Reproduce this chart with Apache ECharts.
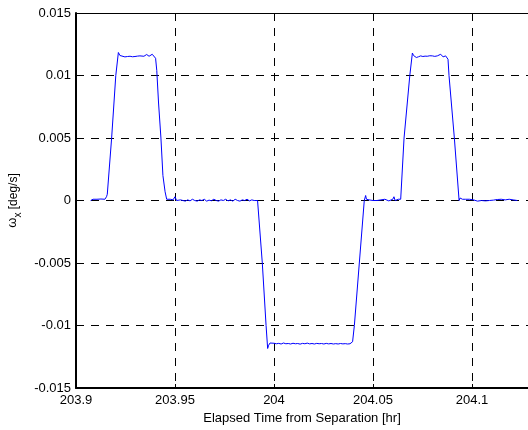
<!DOCTYPE html>
<html>
<head>
<meta charset="utf-8">
<script src="https://cdn.jsdelivr.net/npm/echarts@6/dist/echarts.min.js"></script>
<style>
html,body{margin:0;padding:0;background:#fff;overflow:hidden;}
#chart{width:528px;height:430px;}
</style>
</head>
<body>
<div id="chart"></div>
<script>
// Elapsed time [hr] and omega_x [deg/s]
const timeHr = [
  203.9074,203.9086,203.9096,203.9106,203.9116,203.9126,203.9136,203.9146,203.9154,203.9158,
  203.9180,203.9201,203.9214,203.9222,203.9232,203.9247,203.9260,203.9273,203.9285,203.9298,
  203.9310,203.9323,203.9332,203.9343,203.9357,203.9369,203.9378,203.9385,203.9395,203.9402,
  203.9408,203.9417,203.9429,203.9439,203.9450,203.9458,203.9466,203.9476,203.9480,203.9490,
  203.9500,203.9508,203.9518,203.9528,203.9540,203.9552,203.9564,203.9576,203.9588,203.9600,
  203.9612,203.9624,203.9636,203.9648,203.9660,203.9672,203.9684,203.9696,203.9708,203.9720,
  203.9732,203.9744,203.9756,203.9768,203.9780,203.9792,203.9804,203.9816,203.9828,203.9840,
  203.9852,203.9864,203.9876,203.9888,203.9900,203.9910,203.9917,
  203.9941,203.9960,203.9968,203.9973,203.9980,203.9990,204.0000,204.0012,204.0024,204.0036,
  204.0048,204.0060,204.0072,204.0084,204.0096,204.0108,204.0120,204.0132,204.0144,204.0156,
  204.0168,204.0180,204.0192,204.0204,204.0216,204.0228,204.0240,204.0252,204.0264,204.0276,
  204.0288,204.0300,204.0312,204.0324,204.0336,204.0348,204.0360,204.0372,204.0384,204.0393,
  204.0397,204.0406,204.0431,204.0456,204.0463,204.0467,204.0474,
  204.0480,204.0490,204.0500,204.0510,204.0520,204.0530,204.0540,204.0550,204.0560,204.0570,
  204.0580,204.0590,204.0600,204.0606,204.0612,204.0620,204.0628,204.0634,204.0640,
  204.0657,204.0686,204.0699,204.0705,204.0712,204.0719,204.0730,204.0741,204.0752,204.0763,
  204.0774,204.0787,204.0800,204.0812,204.0825,204.0834,204.0842,204.0854,204.0867,204.0873,
  204.0879,204.0884,204.0911,204.0935,
  204.0940,204.0946,204.0952,204.0960,204.0968,204.0978,204.0988,204.0998,204.1008,204.1018,
  204.1028,204.1038,204.1048,204.1058,204.1068,204.1078,204.1088,204.1098,204.1108,204.1118,
  204.1128,204.1138,204.1148,204.1158,204.1168,204.1178,204.1188,204.1198,204.1208,204.1218,
  204.1229
];
const omegaX = [
  0,0.0001,0.00005,0.0001,0.00008,0.00012,0.00005,0.0001,0.0003,0.0005,
  0.0050,0.0100,0.01184,0.0116,0.0115,0.01149,0.01152,0.01154,0.0115,0.01152,
  0.01155,0.01157,0.01168,0.01154,0.01168,0.01154,0.01162,0.0117,0.01157,0.01138,
  0.0104,0.0078,0.0050,0.0020,0.0007,0.0001,0,0.0001,0,0.00005,
  0.0003,0,0.0001,0.00005,0,-0.00005,0.00005,-0.00003,0.0001,0,
  -0.00005,0.00005,0,0.0001,-0.00005,0.00003,-0.00002,0.0001,0,-0.00005,
  0.00005,0,0.0001,-0.00003,0.00005,-0.00005,0.0001,0,-0.00005,0.00005,
  0,0.0001,-0.00003,0.00005,0,0.00005,0,
  -0.0050,-0.0100,-0.01184,-0.01158,-0.0114,-0.01148,-0.01142,-0.01146,-0.01143,-0.01148,
  -0.0114,-0.01146,-0.01144,-0.01148,-0.01142,-0.01146,-0.01144,-0.01149,-0.01143,-0.01146,
  -0.01141,-0.01147,-0.01144,-0.01148,-0.01143,-0.01146,-0.01144,-0.01148,-0.01143,-0.01147,
  -0.01144,-0.01148,-0.01145,-0.01148,-0.01144,-0.01147,-0.01145,-0.01148,-0.01146,-0.01144,
  -0.0113,-0.0100,-0.0050,0,0.0004,0.0001,0.0001,
  0.00005,0.0001,0,0.00008,0,-0.00003,0.00005,0,0.0001,0.00002,
  -0.00003,0.00005,0.0001,0.0003,0,0.0001,0.0001,0.0002,0.0001,
  0.0050,0.0100,0.0118,0.0116,0.01148,0.01144,0.0115,0.01157,0.01152,0.01155,
  0.01154,0.01158,0.01157,0.01153,0.01157,0.01152,0.0117,0.01149,0.01157,0.01152,
  0.0113,0.0100,0.0050,0,
  0.0002,0.00005,0.0001,0,0.0001,0.00003,0.0001,-0.00003,0.00005,0.0001,
  -0.00005,0.00005,0,0.0001,-0.00003,0.00005,0,0.0001,0.00003,0,
  0.00008,0,0.0001,-0.00005,0.00005,0,0.0001,0.00003,0.00005,0.0001,
  0
];
const xTicks = [203.9, 203.95, 204, 204.05, 204.1];
const yTicks = [-0.015, -0.01, -0.005, 0, 0.005, 0.01, 0.015];
const xMax = 204.1283;

const seriesData = timeHr.map((t, i) => [t, omegaX[i]]);
const fmt = v => String(+(+v).toFixed(4));
const font = 'Liberation Sans, Arial, sans-serif';
const dash = [8, 7];

const chart = echarts.init(document.getElementById('chart'), null, {renderer: 'canvas'});
chart.setOption({
  animation: false,
  backgroundColor: '#fff',
  grid: {left: 76, right: 0, top: 13, bottom: 42, show: false, containLabel: false, outerBoundsMode: 'none'},
  xAxis: [{
    type: 'value',
    min: xTicks[0],
    max: xMax,
    interval: 0.05,
    name: 'Elapsed Time from Separation [hr]',
    nameLocation: 'middle',
    nameGap: 24,
    nameTextStyle: {fontFamily: font, fontSize: 13, color: '#000'},
    axisLine: {show: true, onZero: false, lineStyle: {color: '#000', width: 2}},
    axisTick: {show: true, inside: true, length: 4, lineStyle: {color: '#000'}},
    axisLabel: {formatter: fmt, fontFamily: font, fontSize: 13, color: '#000', margin: 6, showMaxLabel: false},
    splitLine: {show: true, lineStyle: {color: '#000', type: dash, width: 1}}
  }, {
    type: 'value',
    position: 'top',
    min: xTicks[0],
    max: xMax,
    interval: 0.05,
    axisLine: {show: true, onZero: false, lineStyle: {color: '#000', width: 1}},
    axisTick: {show: true, inside: true, length: 4, lineStyle: {color: '#000'}},
    axisLabel: {show: false},
    splitLine: {show: false}
  }],
  yAxis: {
    type: 'value',
    min: yTicks[0],
    max: yTicks[yTicks.length - 1],
    interval: 0.005,
    name: '{w|ω}{s|x}{t| [deg/s]}',
    nameLocation: 'middle',
    nameRotate: 90,
    nameGap: 52,
    nameTextStyle: {
      fontFamily: font, fontSize: 12, color: '#000',
      rich: {
        w: {fontFamily: font, fontSize: 13, color: '#000', lineHeight: 14, verticalAlign: 'bottom', padding: [0, 0, 4, 0]},
        s: {fontFamily: font, fontSize: 10, color: '#000', lineHeight: 10, verticalAlign: 'bottom'},
        t: {fontFamily: font, fontSize: 12, color: '#000', lineHeight: 14, verticalAlign: 'bottom', padding: [0, 0, 4, 0]}
      }
    },
    axisLine: {show: true, onZero: false, lineStyle: {color: '#000', width: 2}},
    axisTick: {show: true, inside: true, length: 4, lineStyle: {color: '#000'}},
    axisLabel: {formatter: fmt, fontFamily: font, fontSize: 13, color: '#000', margin: 5},
    splitLine: {show: true, lineStyle: {color: '#000', type: dash, width: 1}}
  },
  series: [{
    type: 'line',
    xAxisIndex: 0,
    data: seriesData,
    showSymbol: false,
    symbol: 'none',
    lineStyle: {color: '#0000ff', width: 1},
    itemStyle: {color: '#0000ff'},
    clip: true
  }]
});
</script>
</body>
</html>
